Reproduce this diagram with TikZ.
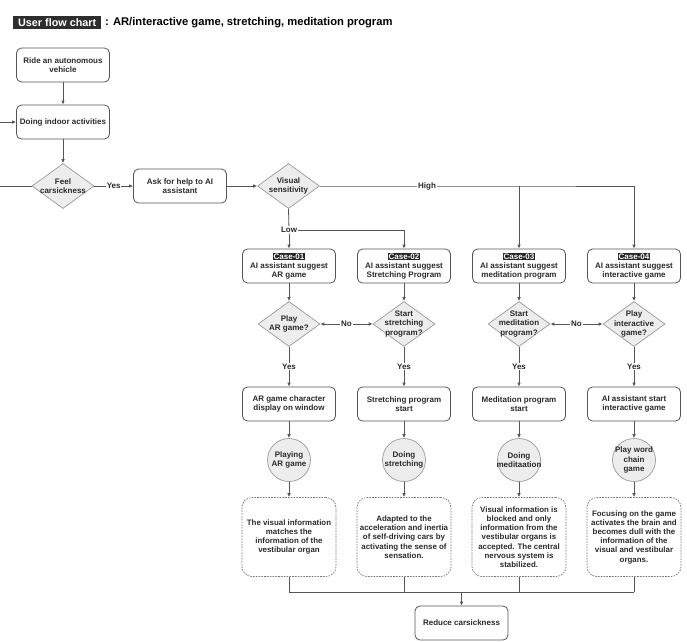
\documentclass[tikz,border=0pt]{standalone}
\usepackage{fontspec}
\setmainfont{Liberation Sans}
\usetikzlibrary{shapes.geometric,arrows.meta}
\definecolor{linecol}{HTML}{555555}
\definecolor{txtcol}{HTML}{2A2A2A}
\definecolor{shade}{HTML}{EDEDED}
\newcommand{\casetag}[1]{{\setlength{\fboxsep}{0.7pt}\colorbox{black!85}{\textcolor{white}{#1}}}}
\newcommand{\mainfnt}{\bfseries\fontsize{8}{9.3}\selectfont}
\begin{document}
\begin{tikzpicture}[x=1pt,y=-1pt,
  every node/.style={text=txtcol,font=\mainfnt},
  conn/.style={draw=linecol,line width=0.8pt},
  arr/.style={conn,-{Latex[length=4pt,width=3.6pt]}},
  darr/.style={conn,{Latex[length=4pt,width=3.6pt]}-{Latex[length=4pt,width=3.6pt]}},
  box/.style={draw=linecol,line width=0.8pt,rounded corners=5pt,minimum width=93pt,minimum height=34pt,align=center,inner sep=2pt},
  dia/.style={diamond,draw=black!40,fill=shade,line width=0.7pt,minimum width=62pt,minimum height=45pt,inner sep=0pt},
  circ/.style={circle,draw=black!40,fill=shade,line width=0.7pt,minimum size=43pt,inner sep=0pt},
  inlbl/.style={align=center,font=\mainfnt,text=txtcol},
  note/.style={draw=black!55,dash pattern=on 1.6pt off 1.2pt,line width=0.7pt,rounded corners=10pt,minimum width=94pt,minimum height=79pt,align=center,inner sep=1pt,font={\bfseries\fontsize{7.9}{9.2}\selectfont}},
  lbl/.style={fill=white,inner sep=0.8pt}
]
\useasboundingbox (0,0) rectangle (687,641);
% title
\node[fill=black!82,text=white,anchor=west,inner xsep=1.5pt,inner ysep=1pt,minimum width=88pt,minimum height=13.5pt,font=\bfseries\fontsize{10.8}{12}\selectfont] (ttag) at (13,22.5) {User flow chart\hfill};
\node[anchor=west,inner sep=0pt,text=black,font=\bfseries\fontsize{11.2}{13}\selectfont] (ttl) at (105,22.5) {: AR/interactive game, stretching, meditation program};
% top chain
\node[box] (ride) at (63,65) {Ride an autonomous\\vehicle};
\node[box] (indoor) at (63,122) {Doing indoor activities};
\node[dia,label={[inlbl]center:Feel\\carsickness}] (feel) at (63,186) {};
\node[box] (ask) at (180,186) {Ask for help to AI\\assistant};
\node[dia,label={[inlbl]center:Visual\\sensitivity}] (vis) at (288.5,186) {};
\coordinate (inL) at (0,122);
\coordinate (loopL) at (0,186);
\draw[arr] (ride) -- (indoor);
\draw[arr] (inL) -- (indoor);
\draw[arr] (indoor) -- (feel);
\draw[conn] (feel.west) -- (loopL);
\draw[arr] (feel.east) -- node[lbl] (yes0) {Yes} (ask);
\draw[arr] (ask) -- (vis);
% cases
\node[box] (c1) at (289,266) {\casetag{Case-01}\\AI assistant suggest\\AR game};
\node[box] (c2) at (404,266) {\casetag{Case-02}\\AI assistant suggest\\Stretching Program};
\node[box] (c3) at (519,266) {\casetag{Case-03}\\AI assistant suggest\\meditation program};
\node[box] (c4) at (634,266) {\casetag{Case-04}\\AI assistant suggest\\interactive game};
\coordinate (low) at (289,230);
\coordinate (low2) at (404,230);
\coordinate (high3) at (519,186);
\coordinate (high4) at (634,186);
\draw[conn] (vis.south) -- (low);
\draw[arr] (low) -- (c1);
\draw[conn] (low) -- (low2);
\draw[arr] (low2) -- (c2);
\node[lbl] (lowlbl) at (low) {Low};
\draw[conn] (vis.east) -- (high3) -- (high4);
\draw[arr] (high3) -- (c3);
\draw[arr] (high4) -- (c4);
\node[lbl] (highlbl) at (427,186) {High};
% decisions
\node[dia,label={[inlbl]center:Play\\AR game?}] (d1) at (289,324) {};
\node[dia,label={[inlbl]center:Start\\stretching\\program?}] (d2) at (404,324) {};
\node[dia,label={[inlbl]center:Start\\meditation\\program?}] (d3) at (519,324) {};
\node[dia,label={[inlbl]center:Play\\interactive\\game?}] (d4) at (634,324) {};
\foreach \i in {1,2,3,4} \draw[arr] (c\i) -- (d\i);
\draw[darr] (d1.east) -- node[lbl] (no1) {No} (d2.west);
\draw[darr] (d3.east) -- node[lbl] (no2) {No} (d4.west);
% steps
\node[box] (s1) at (289,404) {AR game character\\display on window};
\node[box] (s2) at (404,404) {Stretching program\\start};
\node[box] (s3) at (519,404) {Meditation program\\start};
\node[box] (s4) at (634,404) {AI assistant start\\interactive game};
\foreach \i in {1,2,3,4} \draw[arr] (d\i.south) -- node[lbl] {Yes} (s\i);
% circles
\node[circ,label={[inlbl]center:Playing\\AR game}] (p1) at (289,460) {};
\node[circ,label={[inlbl]center:Doing\\stretching}] (p2) at (404,460) {};
\node[circ,label={[inlbl]center:Doing\\meditaation}] (p3) at (519,460) {};
\node[circ,label={[inlbl]center:Play word\\chain\\game}] (p4) at (634,460) {};
\foreach \i in {1,2,3,4} \draw[arr] (s\i) -- (p\i);
% notes
\node[note] (n1) at (289,537) {The visual information\\matches the\\information of the\\vestibular organ};
\node[note] (n2) at (404,537) {Adapted to the\\acceleration and inertia\\of self-driving cars by\\activating the sense of\\sensation.};
\node[note] (n3) at (519,537) {Visual information is\\blocked and only\\information from the\\vestibular organs is\\accepted. The central\\nervous system is\\stabilized.};
\node[note] (n4) at (634,537) {Focusing on the game\\activates the brain and\\becomes dull with the\\information of the\\visual and vestibular\\organs.};
\foreach \i in {1,2,3,4} \draw[arr] (p\i) -- (n\i);
% merge
\node[box] (red) at (461.5,623) {Reduce carsickness};
\coordinate (m1) at (289,592);
\coordinate (m2) at (404,592);
\coordinate (m3) at (519,592);
\coordinate (m4) at (634,592);
\coordinate (mc) at (461.5,592);
\draw[conn] (n1.south) -- (m1);
\draw[conn] (n2.south) -- (m2);
\draw[conn] (n3.south) -- (m3);
\draw[conn] (n4.south) -- (m4);
\draw[conn] (m1) -- (m4);
\draw[arr] (mc) -- (red);
\end{tikzpicture}
\end{document}
